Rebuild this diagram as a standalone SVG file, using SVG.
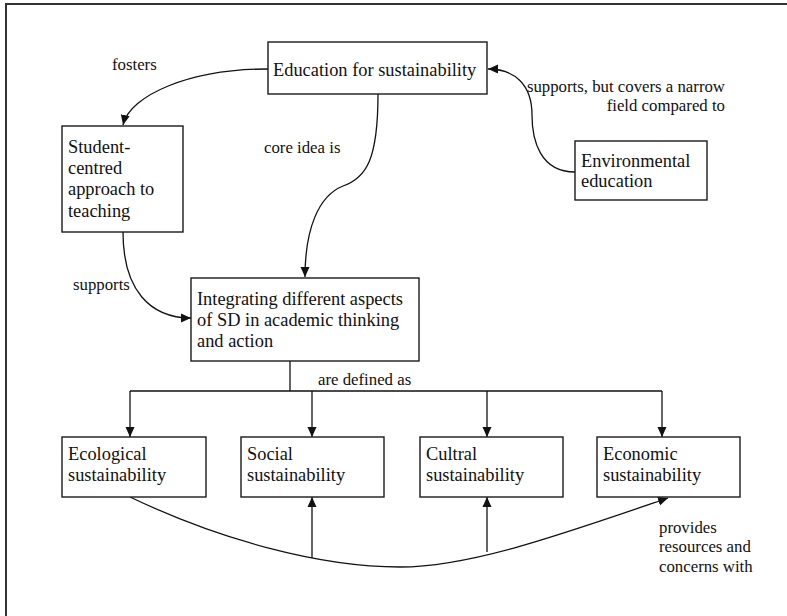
<svg xmlns="http://www.w3.org/2000/svg" width="787" height="616" viewBox="0 0 787 616">
  <style>
    .box { fill: #fff; stroke: #1a1a1a; stroke-width: 1.4; }
    text { font-family: "Liberation Serif", "DejaVu Serif", serif; fill: #111; }
    .t { font-size: 18.4px; }
    .lbl { font-size: 16.8px; }
    .edge { fill: none; stroke: #111; stroke-width: 1.3; }
    .arr { marker-end: url(#head); }
  </style>
  <defs>
    <marker id="head" viewBox="0 0 10 10" refX="10" refY="5" markerWidth="10" markerHeight="10" markerUnits="userSpaceOnUse" orient="auto">
      <path d="M0,0.5 L10,5 L0,9.5 Z" fill="#111"/>
    </marker>
  </defs>

  <rect width="787" height="616" fill="#fff"/>
  <!-- outer frame, running off the right and bottom edges -->
  <rect x="6" y="4" width="800" height="630" fill="none" stroke="#333" stroke-width="2"/>

  <g id="connectors">
    <!-- fosters -->
    <path class="edge arr" d="M268,69 C190,69 130,95 123,125"/>
    <!-- core idea is -->
    <path class="edge arr" d="M378,94 C378,160 366,178 343,186 C318,196 305,230 305,277"/>
    <!-- supports -->
    <path class="edge arr" d="M123,232 C123,290 150,318 191,318"/>
    <!-- supports, but covers a narrow field compared to -->
    <path class="edge arr" d="M575,172 C540,172 532,140 532,115 C532,85 515,69 488,69"/>
    <!-- are defined as -->
    <path class="edge" d="M290,361 V391 M130,391 H662"/>
    <path class="edge arr" d="M130,391 V437"/>
    <path class="edge arr" d="M312,391 V437"/>
    <path class="edge arr" d="M487,391 V437"/>
    <path class="edge arr" d="M662,391 V437"/>
    <!-- provides resources and concerns with -->
    <path class="edge arr" d="M130,497 C220,540 320,567 400,567 C470,567 560,535 668,498"/>
    <path class="edge arr" d="M312,558 V497"/>
    <path class="edge arr" d="M487,552 V497"/>
  </g>

  <g id="labels">
    <text class="lbl" x="112" y="70">fosters</text>
    <text class="lbl" x="264" y="153">core idea is</text>
    <text class="lbl" x="73" y="290">supports</text>
    <text class="lbl" text-anchor="end"><tspan x="725" y="92">supports, but covers a narrow</tspan><tspan x="725" y="111">field compared to</tspan></text>
    <text class="lbl" x="318" y="385">are defined as</text>
    <text class="lbl"><tspan x="659" y="533">provides</tspan><tspan x="659" y="552">resources and</tspan><tspan x="659" y="572">concerns with</tspan></text>
  </g>

  <g id="education-for-sustainability">
    <rect class="box" x="268" y="42" width="219" height="52"/>
    <text class="t" x="273" y="76">Education for sustainability</text>
  </g>

  <g id="student-centred">
    <rect class="box" x="62" y="126" width="121" height="106"/>
    <text class="t"><tspan x="68" y="153">Student-</tspan><tspan x="68" y="174">centred</tspan><tspan x="68" y="195">approach to</tspan><tspan x="68" y="217">teaching</tspan></text>
  </g>

  <g id="environmental-education">
    <rect class="box" x="575" y="141" width="132" height="59"/>
    <text class="t"><tspan x="581" y="167">Environmental</tspan><tspan x="581" y="187">education</tspan></text>
  </g>

  <g id="integrating">
    <rect class="box" x="191" y="278" width="228" height="83"/>
    <text class="t"><tspan x="197" y="305">Integrating different aspects</tspan><tspan x="197" y="326">of SD in academic thinking</tspan><tspan x="197" y="347">and action</tspan></text>
  </g>

  <g id="ecological">
    <rect class="box" x="62" y="437" width="144" height="60"/>
    <text class="t"><tspan x="68" y="460">Ecological</tspan><tspan x="68" y="481">sustainability</tspan></text>
  </g>

  <g id="social">
    <rect class="box" x="241" y="437" width="143" height="60"/>
    <text class="t"><tspan x="247" y="460">Social</tspan><tspan x="247" y="481">sustainability</tspan></text>
  </g>

  <g id="cultral">
    <rect class="box" x="420" y="437" width="143" height="60"/>
    <text class="t"><tspan x="426" y="460">Cultral</tspan><tspan x="426" y="481">sustainability</tspan></text>
  </g>

  <g id="economic">
    <rect class="box" x="597" y="437" width="143" height="60"/>
    <text class="t"><tspan x="603" y="460">Economic</tspan><tspan x="603" y="481">sustainability</tspan></text>
  </g>
</svg>
